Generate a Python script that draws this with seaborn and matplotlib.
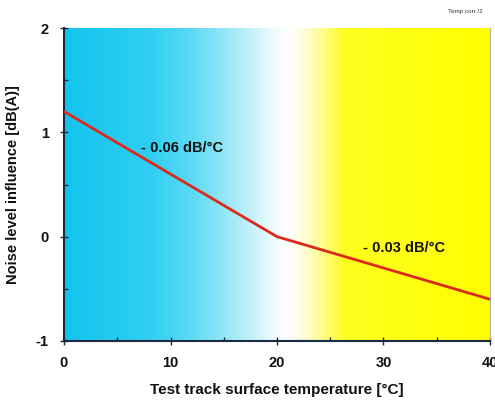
import numpy as np
import pandas as pd
import seaborn as sns
import matplotlib.pyplot as plt
from matplotlib.colors import LinearSegmentedColormap
from matplotlib.ticker import MultipleLocator

# dados
temperatura = [0, 20, 40]
influencia = [1.2, 0.0, -0.6]
rotulos_inclinacao = ["- 0.06 dB/°C", "- 0.03 dB/°C"]
pos_rotulos_x = [7.2, 28.1]
pos_rotulos_y = [0.85, -0.11]

df = pd.DataFrame({"temp": temperatura, "ruido": influencia})

sns.set_style("white")
plt.rcParams['font.family'] = ['Liberation Sans', 'DejaVu Sans']
plt.rcParams['axes.unicode_minus'] = False
plt.rcParams['text.color'] = '#111111'
plt.rcParams['axes.labelcolor'] = '#111111'
plt.rcParams['xtick.labelcolor'] = '#111111'
plt.rcParams['ytick.labelcolor'] = '#111111'

fig = plt.figure(figsize=(4.95, 4.05), dpi=100)
ax = fig.add_axes([64/495, 1 - 341/405, 426/495, 313/405])

# fundo em degrade ciano -> branco -> amarelo
cmap = LinearSegmentedColormap.from_list(
    "fundo",
    [(0.0, "#14c4ee"), (0.2, "#30cef2"), (0.3, "#5cdaf4"), (0.4, "#a6eaf7"),
     (0.5, "#f4fcfd"), (0.53, "#ffffff"), (0.58, "#fffcc0"), (0.66, "#ffff20"), (1.0, "#ffff00")],
)
grad = np.linspace(0, 1, 400).reshape(1, -1)
ax.imshow(grad, extent=[0, 40, -1, 2], aspect="auto", cmap=cmap, zorder=0)

sns.lineplot(data=df, x="temp", y="ruido", ax=ax, color="#dc2a1c", linewidth=2, zorder=3)

for txt, x, y in zip(rotulos_inclinacao, pos_rotulos_x, pos_rotulos_y):
    ax.text(x, y, txt, fontsize=10.5, fontweight="bold", color="#111111", va="center", ha="left")

ax.set_xlim(0, 40)
ax.set_ylim(-1, 2)
ax.xaxis.set_major_locator(MultipleLocator(10))
ax.xaxis.set_minor_locator(MultipleLocator(5))
ax.yaxis.set_major_locator(MultipleLocator(1))
ax.yaxis.set_minor_locator(MultipleLocator(0.5))
ax.tick_params(which="major", direction="inout", length=6, width=1, color="#1a2a40",
               labelsize=10.5, bottom=True, left=True, pad=8)
ax.tick_params(which="minor", direction="in", length=3, width=1, color="#1a2a40",
               bottom=True, left=True)
for lab in ax.get_xticklabels() + ax.get_yticklabels():
    lab.set_fontweight("bold")

ax.set_xlabel("Test track surface temperature [°C]", fontsize=11, fontweight="bold", labelpad=9)
ax.set_ylabel("Noise level influence [dB(A)]", fontsize=10.5, fontweight="bold", labelpad=11)

for s in ["left", "bottom"]:
    ax.spines[s].set_color("#1a2a40")
    ax.spines[s].set_linewidth(1.5)
ax.spines["right"].set_color("#b0b0b0")
ax.spines["right"].set_linewidth(0.8)
ax.spines["top"].set_visible(False)

fig.text(465/495, 1 - 12/405, "Temp corr /2", fontsize=4.5, ha="center", va="center", color="#333333")

fig.savefig("out.png", dpi=100)
